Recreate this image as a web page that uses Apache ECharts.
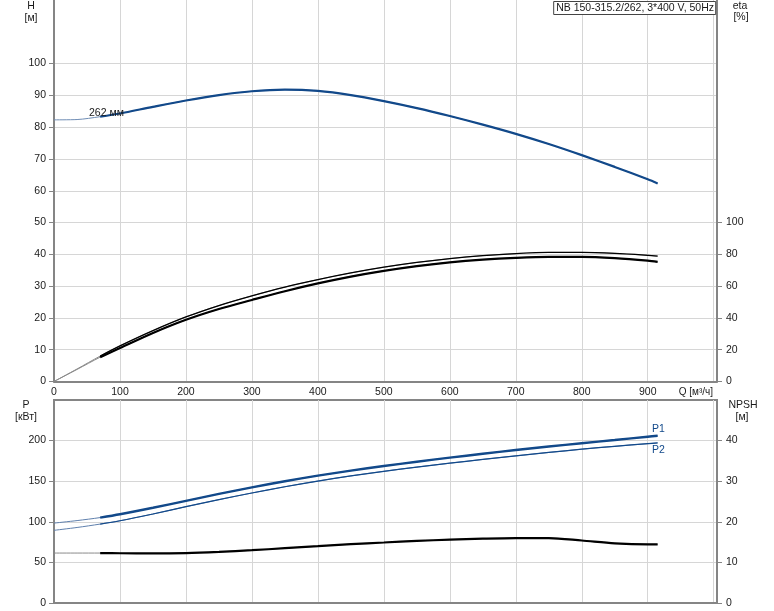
<!DOCTYPE html>
<html><head><meta charset="utf-8">
<script src="https://cdn.jsdelivr.net/npm/echarts@6/dist/echarts.min.js"></script>
<style>html,body{margin:0;padding:0;background:#fff}#c{width:774px;height:611px}</style>
</head><body><div id="c"></div>
<script>
// Flow rate Q [m3/h]
const Q      = [0, 35, 70, 100, 150, 200, 250, 300, 350, 400, 450, 500, 550, 600, 650, 700, 750, 800, 850, 900, 915];
// Head H [m]
const H      = [82.3, 82.4, 83.3, 84.3, 86.4, 88.4, 90.1, 91.3, 91.8, 91.4, 90.1, 88.2, 86.0, 83.5, 80.8, 77.9, 74.7, 71.2, 67.5, 63.6, 62.3];
// Efficiency curves eta [%]
const ETA1   = [0, 7.9, 16.0, 22.4, 32.0, 40.6, 47.8, 53.9, 59.4, 64.1, 68.3, 71.9, 74.9, 77.3, 79.2, 80.5, 81.2, 81.2, 80.6, 79.4, 78.9];
const ETA2   = [0, 7.6, 15.3, 21.0, 30.5, 38.8, 45.6, 51.3, 56.8, 61.7, 66.0, 69.6, 72.6, 75.0, 76.7, 77.8, 78.4, 78.4, 77.6, 76.0, 75.2];
// Power P [kW]
const P1     = [98.4, 101.5, 105.2, 109.3, 117.3, 125.8, 134.3, 142.4, 150.0, 156.8, 163.0, 168.7, 174.0, 179.0, 183.8, 188.4, 192.7, 196.8, 200.8, 204.8, 206.0];
const P2     = [89.5, 93.0, 97.2, 101.3, 109.6, 118.6, 127.3, 135.5, 143.2, 150.2, 156.5, 162.2, 167.4, 172.2, 176.8, 181.2, 185.4, 189.4, 193.0, 196.2, 197.1];
// NPSH [m]
const NPSH   = [12.3, 12.3, 12.3, 12.25, 12.2, 12.3, 12.6, 13.0, 13.5, 14.0, 14.5, 14.9, 15.3, 15.6, 15.85, 16.0, 16.0, 15.4, 14.7, 14.45, 14.45];
// Tick labels
const H_TICKS    = [0,10,20,30,40,50,60,70,80,90,100];
const ETA_TICKS  = [0,20,40,60,80,100];
const P_TICKS    = [0,50,100,150,200];
const NPSH_TICKS = [0,10,20,30,40];
const Q_LABELS   = [0,100,200,300,400,500,600,700,800,900];
const TITLE = 'NB 150-315.2/262, 3*400 V, 50Hz';
const START = 2; // index of Q where the bold part of each curve begins

function pairs(ys, from) { const out = []; for (let i = from; i < Q.length; i++) out.push([Q[i], ys[i]]); return out; }

const FONT = '"Liberation Sans", Arial, sans-serif';
const TXT = '#1a1a1a';
const BLUE = '#12498a';
const AX = '#858585';
const GRID = '#d6d6d6';

function xAxisDef(gridIndex, showLabels) {
  return {
    type: 'value', gridIndex, min: 0, max: 1005, interval: 100,
    axisLine: { show: true, onZero: false, lineStyle: { color: AX, width: 2 } },
    axisTick: { show: false },
    splitLine: { show: true, lineStyle: { color: GRID, width: 1 } },
    axisLabel: showLabels ? {
      show: true, margin: 5, color: TXT, fontSize: 10.5, fontFamily: FONT,
      customValues: Q_LABELS
    } : { show: false }
  };
}
function yAxisDef(gridIndex, pos, min, max, interval, ticks, split) {
  return {
    type: 'value', gridIndex, position: pos, min, max, interval,
    axisLine: { show: true, onZero: false, lineStyle: { color: AX, width: 2 } },
    axisTick: { show: true, inside: false, length: 5, lineStyle: { color: AX }, customValues: ticks },
    axisLabel: { show: true, margin: pos === 'left' ? 8 : 9, color: TXT, fontSize: 10.5, fontFamily: FONT, customValues: ticks },
    splitLine: { show: split, lineStyle: { color: GRID, width: 1 } }
  };
}
function line(name, xi, yi, data, color, width, z) {
  return {
    name, type: 'line', xAxisIndex: xi, yAxisIndex: yi, data, showSymbol: false, symbol: 'none',
    smooth: 0.3, lineStyle: { color, width }, silent: true, z: z
  };
}

// thin full-range line underneath + bold line from Q[START]
const curves = [
  { name: 'H',    xi: 0, yi: 0, ys: H,    thin: '#6f8db5', bold: BLUE,   w: 2.2 },
  { name: 'eta1', xi: 0, yi: 1, ys: ETA1, thin: '#8a8a8a', bold: '#000', w: 1.3 },
  { name: 'eta2', xi: 0, yi: 1, ys: ETA2, thin: '#8a8a8a', bold: '#000', w: 2.2 },
  { name: 'P1',   xi: 1, yi: 2, ys: P1,   thin: '#5f80ad', bold: BLUE,   w: 2.4 },
  { name: 'P2',   xi: 1, yi: 2, ys: P2,   thin: '#5f80ad', bold: BLUE,   w: 1.2 },
  { name: 'NPSH', xi: 1, yi: 3, ys: NPSH, thin: '#8a8a8a', bold: '#000', w: 2.2 }
];
const series = [];
curves.forEach(c => {
  series.push(line(c.name + ' ext', c.xi, c.yi, pairs(c.ys, 0), c.thin, 1, 2));
  series.push(line(c.name, c.xi, c.yi, pairs(c.ys, START), c.bold, c.w, 3));
});

const chart = echarts.init(document.getElementById('c'), null, { renderer: 'canvas' });
chart.setOption({
  animation: false,
  backgroundColor: '#fff',
  title: {
    text: TITLE, right: 58, top: 1,
    borderColor: '#444', borderWidth: 1, backgroundColor: '#fff',
    padding: [2, 2, 1, 3],
    textStyle: { fontSize: 10.5, fontWeight: 'normal', color: TXT, fontFamily: FONT }
  },
  grid: [
    { left: 54, width: 663, top: 0, height: 381.5 },
    { left: 54, width: 663, top: 400, height: 203, show: true, borderColor: AX, borderWidth: 2, backgroundColor: 'transparent' }
  ],
  xAxis: [xAxisDef(0, true), xAxisDef(1, false)],
  yAxis: [
    yAxisDef(0, 'left', 0, 120, 10, H_TICKS, true),
    yAxisDef(0, 'right', 0, 240, 20, ETA_TICKS, false),
    yAxisDef(1, 'left', 0, 250, 50, P_TICKS, true),
    yAxisDef(1, 'right', 0, 50, 10, NPSH_TICKS, false)
  ],
  series,
  graphic: [
    { type: 'text', x: 31, y: 6, style: { text: 'H', fill: TXT, font: '10.5px ' + FONT, textAlign: 'center', textVerticalAlign: 'middle' } },
    { type: 'text', x: 31, y: 18, style: { text: '[м]', fill: TXT, font: '10.5px ' + FONT, textAlign: 'center', textVerticalAlign: 'middle' } },
    { type: 'text', x: 740, y: 6, style: { text: 'eta', fill: TXT, font: '10.5px ' + FONT, textAlign: 'center', textVerticalAlign: 'middle' } },
    { type: 'text', x: 741, y: 17, style: { text: '[%]', fill: TXT, font: '10.5px ' + FONT, textAlign: 'center', textVerticalAlign: 'middle' } },
    { type: 'text', x: 26, y: 405, style: { text: 'P', fill: TXT, font: '10.5px ' + FONT, textAlign: 'center', textVerticalAlign: 'middle' } },
    { type: 'text', x: 26, y: 417, style: { text: '[кВт]', fill: TXT, font: '10.5px ' + FONT, textAlign: 'center', textVerticalAlign: 'middle' } },
    { type: 'text', x: 743, y: 405, style: { text: 'NPSH', fill: TXT, font: '10.5px ' + FONT, textAlign: 'center', textVerticalAlign: 'middle' } },
    { type: 'text', x: 742, y: 417, style: { text: '[м]', fill: TXT, font: '10.5px ' + FONT, textAlign: 'center', textVerticalAlign: 'middle' } },
    { type: 'text', x: 713, y: 392, style: { text: 'Q [м³/ч]', fill: TXT, font: '10px ' + FONT, textAlign: 'right', textVerticalAlign: 'middle' } },
    { type: 'text', x: 89, y: 113, z: 10, style: { text: '262 мм', fill: TXT, font: '10.5px ' + FONT, textAlign: 'left', textVerticalAlign: 'middle' } },
    { type: 'text', x: 652, y: 429, z: 10, style: { text: 'P1', fill: BLUE, font: '10.5px ' + FONT, textAlign: 'left', textVerticalAlign: 'middle' } },
    { type: 'text', x: 652, y: 450, z: 10, style: { text: 'P2', fill: BLUE, font: '10.5px ' + FONT, textAlign: 'left', textVerticalAlign: 'middle' } }
  ]
});
</script></body></html>
